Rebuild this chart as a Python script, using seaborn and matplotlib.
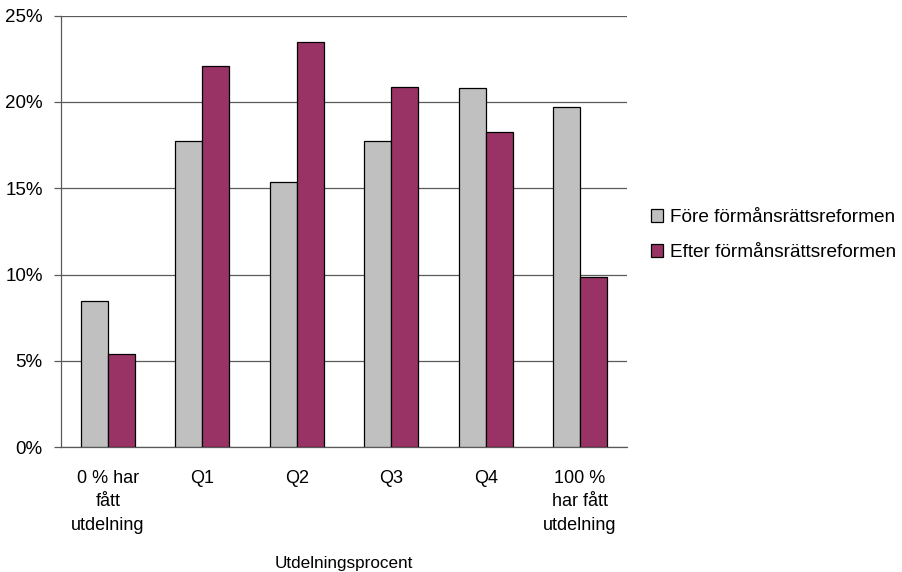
import matplotlib
matplotlib.use("Agg")
import matplotlib.pyplot as plt
from matplotlib.patches import Patch
from matplotlib.ticker import PercentFormatter, FixedLocator
import seaborn as sns
import pandas as pd

# Share of companies per dividend-payout group, before and after the reform
categories = ["0 % har\nfått\nutdelning", "Q1", "Q2", "Q3", "Q4", "100 %\nhar fått\nutdelning"]
fore = [0.0848, 0.1773, 0.1537, 0.1773, 0.2080, 0.1973]
efter = [0.0540, 0.2210, 0.2350, 0.2087, 0.1827, 0.0987]
series_names = ["Före förmånsrättsreformen", "Efter förmånsrättsreformen"]
colors = ["#C0C0C0", "#993366"]

df = pd.DataFrame({
    "grupp": categories * 2,
    "andel": fore + efter,
    "serie": [series_names[0]] * len(categories) + [series_names[1]] * len(categories),
})

sns.set_style("white")
plt.rcParams["font.family"] = ["Liberation Sans", "DejaVu Sans"]
plt.rcParams["text.color"] = "black"
plt.rcParams["xtick.labelcolor"] = "black"
plt.rcParams["ytick.labelcolor"] = "black"
plt.rcParams["axes.labelcolor"] = "black"

fig = plt.figure(figsize=(9.02, 5.72), dpi=100)
ax = fig.add_axes([0.0673, 0.218, 0.6282, 0.7546])

sns.barplot(data=df, x="grupp", y="andel", hue="serie", order=categories,
            hue_order=series_names, palette=colors, saturation=1, width=0.57,
            edgecolor="black", linewidth=0.9, ax=ax, legend=False, zorder=3)

ax.set_xlim(-0.5, len(categories) - 0.5)
ax.set_ylim(0, 0.25)
ax.yaxis.set_major_locator(FixedLocator([0, 0.05, 0.10, 0.15, 0.20, 0.25]))
ax.yaxis.set_major_formatter(PercentFormatter(1.0, decimals=0))
ax.grid(axis="y", color="#5a5a5a", linewidth=0.9, zorder=0)
ax.set_axisbelow(True)

for side in ["top", "right"]:
    ax.spines[side].set_visible(False)
for side in ["left", "bottom"]:
    ax.spines[side].set_color("#5a5a5a")
    ax.spines[side].set_linewidth(0.9)

# Category labels centred, tick marks on the category boundaries
ax.set_xticks(range(len(categories)))
ax.set_xticklabels(categories, fontsize=13, linespacing=1.52, va="top")
ax.set_xticks([i - 0.5 for i in range(len(categories) + 1)], minor=True)
ax.tick_params(axis="x", which="major", length=0, pad=16)
ax.tick_params(axis="x", which="minor", length=5, width=0.9, color="#5a5a5a", direction="out")
ax.tick_params(axis="y", length=5, width=0.9, color="#5a5a5a", direction="out",
               labelsize=13.5, pad=8, left=True)

ax.set_xlabel("Utdelningsprocent", fontsize=12.3, labelpad=16)
ax.set_ylabel("")

handles = [Patch(facecolor=c, edgecolor="black", linewidth=0.9) for c in colors]
fig.legend(handles, series_names, loc="center left", bbox_to_anchor=(0.722, 0.589),
           frameon=False, fontsize=13.7, handlelength=0.62, handleheight=0.62,
           handletextpad=0.37, labelspacing=0.95, borderpad=0, borderaxespad=0)

fig.savefig("out.png", dpi=100)
